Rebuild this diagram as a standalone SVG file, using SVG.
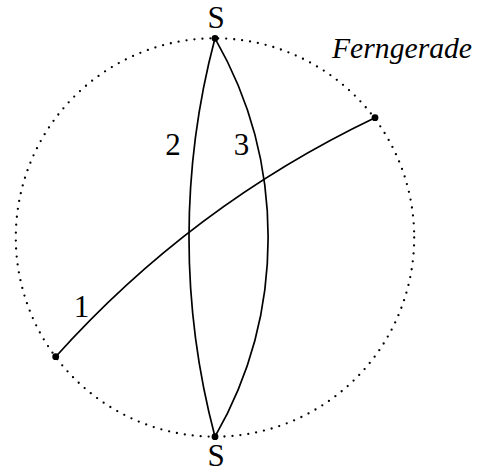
<svg xmlns="http://www.w3.org/2000/svg" width="483" height="472" viewBox="0 0 483 472">
<style>
.lbl{font-family:"Liberation Serif","Times New Roman","DejaVu Serif",serif;font-size:31px;fill:#000}
.it{font-style:italic;font-size:30px}
.geo{fill:none;stroke:#000;stroke-width:1.7}
.pt{fill:#000}
</style>
<rect width="483" height="472" fill="#fff"/>
<g id="ferngerade">
<circle cx="215" cy="237.5" r="199.2" fill="none" stroke="#000" stroke-width="2.3" stroke-linecap="round" stroke-dasharray="0 7.98"/>
<text class="lbl it" x="332" y="58" textLength="140" lengthAdjust="spacingAndGlyphs">Ferngerade</text>
</g>
<g id="connectors">
<path id="g1" class="geo" d="M55.7,356.7 A1019,1019 0 0 1 375,117.7"/>
<path id="g2" class="geo" d="M215,38.3 A776,776 0 0 0 215,436.7"/>
<path id="g3" class="geo" d="M215,38.3 A400,400 0 0 1 215,436.7"/>
</g>
<g id="S-top"><circle class="pt" cx="215" cy="38.3" r="3.4"/><text class="lbl" x="216" y="28" text-anchor="middle">S</text></g>
<g id="S-bottom"><circle class="pt" cx="215" cy="436.7" r="3.4"/><text class="lbl" x="216" y="466" text-anchor="middle">S</text></g>
<g id="P-left"><circle class="pt" cx="55.7" cy="356.7" r="3.4"/></g>
<g id="P-right"><circle class="pt" cx="375" cy="117.7" r="3.4"/></g>
<g id="label-1"><text class="lbl" x="81.5" y="317" text-anchor="middle">1</text></g>
<g id="label-2"><text class="lbl" x="173" y="155" text-anchor="middle">2</text></g>
<g id="label-3"><text class="lbl" x="241.5" y="155" text-anchor="middle">3</text></g>
</svg>
